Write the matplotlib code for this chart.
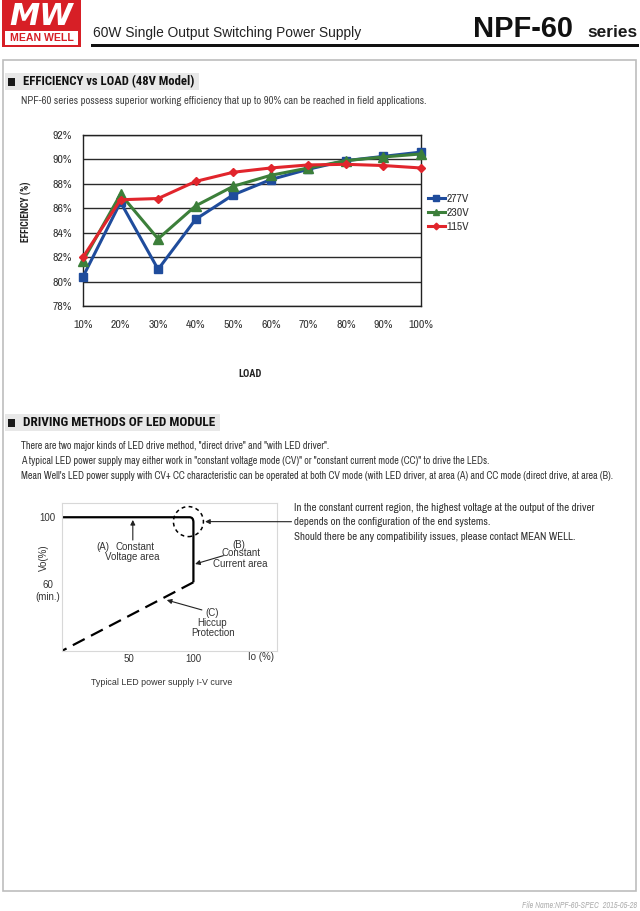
import matplotlib
matplotlib.use('Agg')
import matplotlib.pyplot as plt
from matplotlib import font_manager as fm
from matplotlib.patches import Rectangle, Ellipse, PathPatch
from matplotlib.path import Path

W, H = 640, 911
_cands = ['Liberation Sans Narrow', 'Arial Narrow', 'Archivo Narrow', 'Roboto Condensed',
          'PT Sans Narrow', 'Liberation Sans']
_entries = fm.fontManager.ttflist
_installed = set(f.name for f in _entries)


def _has_bold(n):
    return any(f.name == n and (f.weight in (700, 'bold') or 'Bold' in f.fname.split('/')[-1])
               for f in _entries)


_narrow = next((n for n in _cands if n in _installed), 'DejaVu Sans')
_narrow_b = next((n for n in _cands if n in _installed and _has_bold(n)), 'DejaVu Sans')
NARROW = [_narrow, 'DejaVu Sans']
NARROW_B = [_narrow_b, 'DejaVu Sans']
REG = ['Liberation Sans', 'DejaVu Sans']
plt.rcParams['font.family'] = NARROW

# ---------------- data ----------------
load_labels = ['10%', '20%', '30%', '40%', '50%', '60%', '70%', '80%', '90%', '100%']
eff_277 = [80.4, 86.5, 81.0, 85.1, 87.1, 88.35, 89.2, 89.9, 90.25, 90.6]
eff_230 = [81.7, 87.15, 83.5, 86.2, 87.8, 88.7, 89.3, 89.9, 90.2, 90.45]
eff_115 = [82.0, 86.7, 86.8, 88.2, 88.95, 89.3, 89.55, 89.6, 89.5, 89.3]
series_names = ['277V', '230V', '115V']
eff_yticks = [78, 80, 82, 84, 86, 88, 90, 92]

# I-V curve schematic (Io %, Vo %)
iv_io = [-2.8, 97, 100, 100, 100]
iv_vo = [100, 100, 100, 97, 61.2]
hic_io = [100, -2.8]
hic_vo = [61.2, 20.2]
iv_xticks = [50, 100]
iv_yticks = [100, 60]

BLUE, GREEN, RED = '#1f4c9c', '#3c7f3a', '#e1252c'

fig = plt.figure(figsize=(6.4, 9.11), dpi=100)
fig.patch.set_facecolor('white')
renderer = fig.canvas.get_renderer()


def fx(x):
    return x / W


def fy(y):
    return 1 - y / H


def rect(x0, y0, x1, y1, **kw):
    fig.add_artist(Rectangle((fx(x0), fy(y1)), (x1 - x0) / W, (y1 - y0) / H,
                             transform=fig.transFigure, **kw))


def text(x, y, s, w=None, size=7, ha='left', va='center', family=NARROW, **kw):
    t = fig.text(fx(x), fy(y), s, fontsize=size, ha=ha, va=va, family=family, **kw)
    if w:
        bb = t.get_window_extent(renderer=renderer)
        t.set_fontsize(size * w / bb.width)
    return t


# ---------------- header ----------------
rect(2, 0, 81, 47, color='#d71f26', lw=0)
text(41.5, 16.5, 'MW', w=64, size=24, ha='center', family=['DejaVu Sans'],
     weight='bold', style='italic', color='white')
rect(5, 31, 78, 44.5, color='white', lw=0)
text(41.5, 38, 'MEAN WELL', w=64, size=7, ha='center', family=REG,
     weight='bold', color='#d71f26')
text(93, 37.3, '60W Single Output Switching Power Supply', w=268, size=10,
     va='baseline', family=REG, color='#222222')
text(473, 37.3, 'NPF-60', w=100, size=20, va='baseline', family=REG, weight='bold', color='#111111')
text(587, 37.3, 'series', w=50, size=11, va='baseline', family=REG, weight='bold', color='#1a1a1a')
rect(91, 43.5, 639, 46.8, color='#111111', lw=0)

# page box
rect(2.5, 60, 636, 891, fill=False, ec='#bdbdbd', lw=1.2)

# ---------------- section 1 ----------------
rect(5, 73, 199, 90, color='#e8e8e8', lw=0)
rect(7.5, 78, 15, 86, color='#1a1a1a', lw=0)
text(22.7, 82, 'EFFICIENCY vs LOAD (48V Model)', w=172, size=9.5, family=NARROW_B,
     weight='bold', color='#111111')
text(20.7, 101.5, 'NPF-60 series possess superior working efficiency that up to 90% can be reached in field applications.',
     w=404, size=6.5, color='#444444')

ax = fig.add_axes([fx(83), fy(306), (421 - 83) / W, (306 - 135) / H])
xs = list(range(len(load_labels)))
ax.plot(xs, eff_277, color=BLUE, lw=2.2, marker='s', ms=6, label=series_names[0], clip_on=False, zorder=3)
ax.plot(xs, eff_230, color=GREEN, lw=2.2, marker='^', ms=6.5, label=series_names[1], clip_on=False, zorder=4)
ax.plot(xs, eff_115, color=RED, lw=2.2, marker='D', ms=4.5, label=series_names[2], clip_on=False, zorder=5)
ax.set_xlim(0, len(load_labels) - 1)
ax.set_ylim(eff_yticks[0], eff_yticks[-1])
ax.set_yticks(eff_yticks)
ax.set_yticklabels([f'{v}%' for v in eff_yticks])
ax.set_xticks(xs)
ax.set_xticklabels(load_labels)
ax.grid(axis='y', color='#2a2a2a', lw=1.0)
ax.set_axisbelow(True)
ax.tick_params(axis='x', length=0, labelsize=8.5, labelcolor='#333333', pad=10)
ax.tick_params(axis='y', length=0, labelsize=8.5, labelcolor='#333333', pad=8)
for sp in ax.spines.values():
    sp.set_color('#222222')
    sp.set_linewidth(1.0)
leg = ax.legend(loc='upper left', bbox_to_anchor=(fx(428), fy(194)), bbox_transform=fig.transFigure,
                frameon=False, fontsize=8.5, handlelength=1.4, handletextpad=0.15, labelspacing=0.3,
                borderpad=0, borderaxespad=0, markerscale=0.75)
for t in leg.get_texts():
    t.set_color('#333333')

text(26, 212, 'EFFICIENCY (%)', size=7, ha='center', rotation=90, family=NARROW_B,
     weight='bold', color='#222222')
text(250.5, 374, 'LOAD', size=7.5, ha='center', family=NARROW_B, weight='bold', color='#222222')

# ---------------- section 2 ----------------
rect(5, 414, 220, 431, color='#e8e8e8', lw=0)
rect(7.5, 418.5, 15, 426.5, color='#1a1a1a', lw=0)
text(22.7, 422.5, 'DRIVING METHODS OF LED MODULE', w=194, size=9.5, family=NARROW_B,
     weight='bold', color='#111111')
para = ['There are two major kinds of LED drive method, "direct drive" and "with LED driver".',
        'A typical LED power supply may either work in "constant voltage mode (CV)" or "constant current mode (CC)" to drive the LEDs.',
        "Mean Well's LED power supply with CV+ CC characteristic can be operated at both CV mode (with LED driver, at area (A) and CC mode (direct drive, at area (B)."]
t3 = text(21, 476, para[2], w=590, size=6.5, color='#333333')
fs = t3.get_fontsize()
text(21, 446, para[0], size=fs, color='#333333')
text(21, 461, para[1], size=fs, color='#333333')

right = ['In the constant current region, the highest voltage at the output of the driver',
         'depends on the configuration of the end systems.',
         'Should there be any compatibility issues, please contact MEAN WELL.']
r1 = text(294, 508, right[0], w=298, size=6.5, color='#333333')
fs2 = r1.get_fontsize()
text(294, 522.3, right[1], size=fs2, color='#333333')
text(294, 536.7, right[2], size=fs2, color='#333333')

# I-V curve
ax2 = fig.add_axes([fx(61.7), fy(651), (276.7 - 61.7) / W, (651 - 503) / H])
ax2.set_xlim(-2.8, 165)
ax2.set_ylim(20.2, 108.5)
codes = [Path.MOVETO, Path.LINETO, Path.CURVE3, Path.CURVE3, Path.LINETO]
ax2.add_patch(PathPatch(Path(list(zip(iv_io, iv_vo)), codes), fill=False, ec='black', lw=1.6,
                        capstyle='butt', joinstyle='miter'))
ax2.plot(hic_io, hic_vo, color='black', lw=1.6, dashes=(6, 3.2), solid_capstyle='butt')
ax2.add_patch(Ellipse((96.1, 97.4), 23.4, 17.9, fill=False, ec='black', lw=1.1, ls=(0, (2.5, 2.2)),
                      clip_on=False))
ax2.set_xticks(iv_xticks)
ax2.set_xticklabels([str(v) for v in iv_xticks])
ax2.set_yticks(iv_yticks)
ax2.set_yticklabels([str(v) for v in iv_yticks])
ax2.tick_params(axis='x', length=0, labelsize=7, labelcolor='#333333', pad=2)
ax2.tick_params(axis='y', length=0, labelsize=7, labelcolor='#333333', pad=10)
for lbl in ax2.get_xticklabels() + ax2.get_yticklabels():
    lbl.set_family(REG)
for lbl in ax2.get_yticklabels():
    lbl.set_ha('center')
for sp in ax2.spines.values():
    sp.set_color('#d8d8d8')
    sp.set_linewidth(0.8)

ap = dict(arrowstyle='-|>', color='#222222', lw=0.8, mutation_scale=7, shrinkA=0, shrinkB=0)
ax2.annotate('', xy=(52.7, 98.4), xytext=(52.7, 86.4), arrowprops=ap)
ax2.annotate('', xy=(101.3, 72.1), xytext=(123.4, 77.1), arrowprops=ap)
ax2.annotate('', xy=(79.2, 50.6), xytext=(106.6, 44.7), arrowprops=ap)
ax2.annotate('', xy=(109.1, 97.4), xytext=(291.5, H - 521.7), textcoords='figure pixels',
             arrowprops=ap, annotation_clip=False)

tc = '#333333'
ts = 7
text(96.7, 546.7, '(A)', size=ts, family=REG, color=tc)
text(116, 546.7, 'Constant', size=ts, family=REG, color=tc)
text(132, 556.7, 'Voltage area', size=ts, ha='center', family=REG, color=tc)
text(238.8, 545, '(B)', size=ts, ha='center', family=REG, color=tc)
text(240.5, 553.3, 'Constant', size=ts, ha='center', family=REG, color=tc)
text(240.2, 564, 'Current area', size=ts, ha='center', family=REG, color=tc)
text(212.5, 613.3, '(C)', size=ts, ha='center', family=REG, color=tc)
text(211.7, 623, 'Hiccup', size=ts, ha='center', family=REG, color=tc)
text(213.3, 632.7, 'Protection', size=ts, ha='center', family=REG, color=tc)
text(44, 558, 'Vo(%)', size=ts, ha='center', rotation=90, family=REG, color=tc)
text(48, 596.5, '(min.)', size=ts, ha='center', family=REG, color=tc)
text(260.8, 657.3, 'Io (%)', size=ts, ha='center', family=REG, color=tc)
text(161.7, 682.3, 'Typical LED power supply I-V curve', w=140, size=ts, ha='center', family=REG, color=tc)

# footer
text(637, 906, 'File Name:NPF-60-SPEC  2015-05-28', ha='right', w=116, size=4.5, style='italic',
     color='#b0b0b0')

fig.savefig('out.png', dpi=100, facecolor='white')
